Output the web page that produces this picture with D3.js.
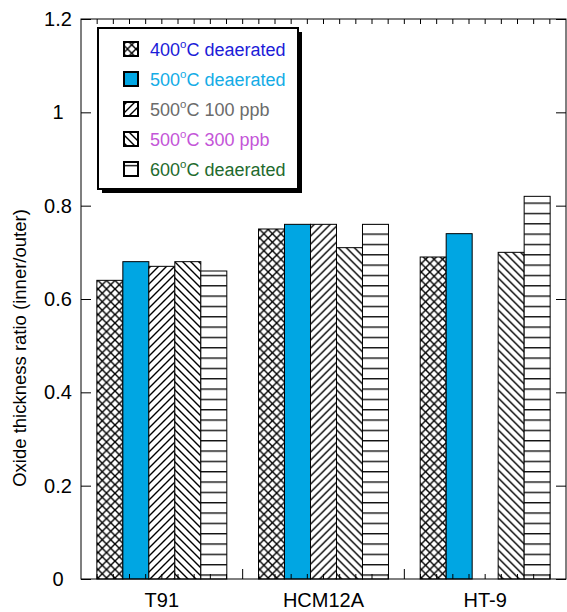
<!DOCTYPE html>
<html>
<head>
<meta charset="utf-8">
<script src="https://cdn.jsdelivr.net/npm/d3@7"></script>
<style>
  body { margin: 0; background: #fff; }
  svg { display: block; font-family: "Liberation Sans", Arial, Helvetica, sans-serif; }
</style>
</head>
<body>
<svg id="chart"></svg>
<script>
// data
const alloys = ['T91', 'HCM12A', 'HT-9'];
const conditions = ['400C deaerated', '500C deaerated', '500C 100 ppb', '500C 300 ppb', '600C deaerated'];
const conditionTemp = ['400', '500', '500', '500', '600'];
const conditionRest = ['C deaerated', 'C deaerated', 'C 100 ppb', 'C 300 ppb', 'C deaerated'];
const conditionColor = ['#1c1cd8', '#14ace6', '#6b6b6b', '#c455d8', '#1f6b2e'];
const ratios = [
  [0.64, 0.68, 0.67, 0.68, 0.66],   // T91
  [0.75, 0.76, 0.76, 0.71, 0.76],   // HCM12A
  [0.69, 0.74, null, 0.70, 0.82]    // HT-9
];
const yTicks = [0, 0.2, 0.4, 0.6, 0.8, 1, 1.2];

const width = 567;
const height = 612;
const margin = { top: 19, right: 1, bottom: 33, left: 81 };

const svg = d3.select('#chart')
  .attr('width', width)
  .attr('height', height);

const x = d3.scaleBand()
  .domain(alloys)
  .range([margin.left, width - margin.right])
  .paddingInner(0)
  .paddingOuter(0);

const xc = d3.scaleBand()
  .domain(conditions)
  .range([0, x.bandwidth()])
  .paddingInner(0)
  .paddingOuter(0.61);

const y = d3.scaleLinear()
  .domain([0, 1.2])
  .range([height - margin.bottom, margin.top]);

// fine scale for the small ticks (ten per alloy)
const xt = d3.scaleLinear()
  .domain([0, alloys.length * 10])
  .range(x.range());

// hatch patterns
const defs = svg.append('defs');

function hatch(id, dirs, s) {
  const p = defs.append('pattern')
    .attr('id', id)
    .attr('patternUnits', 'userSpaceOnUse')
    .attr('width', s)
    .attr('height', s);
  p.append('rect').attr('width', s).attr('height', s).attr('fill', '#fff');
  if (dirs.includes('/')) {
    p.append('path')
      .attr('d', `M-2,2 L2,-2 M0,${s} L${s},0 M${s - 2},${s + 2} L${s + 2},${s - 2}`)
      .attr('stroke', '#000').attr('stroke-width', 1.4);
  }
  if (dirs.includes('\\')) {
    p.append('path')
      .attr('d', `M-2,${s - 2} L2,${s + 2} M0,0 L${s},${s} M${s - 2},-2 L${s + 2},2`)
      .attr('stroke', '#000').attr('stroke-width', 1.4);
  }
}
hatch('cross', '/\\', 8.5);
hatch('fwd', '/', 8);
hatch('back', '\\', 8);

const hStep = 10.33;
const hLines = defs.append('pattern')
  .attr('id', 'horiz')
  .attr('patternUnits', 'userSpaceOnUse')
  .attr('width', 10)
  .attr('height', hStep)
  .attr('y', (y(0) - 15) % hStep);
hLines.append('rect').attr('width', 10).attr('height', hStep).attr('fill', '#fff');
hLines.append('line')
  .attr('x1', 0).attr('x2', 10)
  .attr('y1', 0.7).attr('y2', 0.7)
  .attr('stroke', '#111').attr('stroke-width', 1.4);

const fills = ['url(#cross)', '#00a6e3', 'url(#fwd)', 'url(#back)', 'url(#horiz)'];

// bars
const groups = svg.append('g')
  .selectAll('g')
  .data(alloys)
  .join('g')
  .attr('transform', d => `translate(${x(d)},0)`);

groups.selectAll('rect')
  .data((d, i) => ratios[i].map((v, j) => ({ v, j })).filter(e => e.v !== null))
  .join('rect')
  .attr('x', e => xc(conditions[e.j]))
  .attr('width', xc.bandwidth())
  .attr('y', e => y(e.v))
  .attr('height', e => y(0) - y(e.v))
  .attr('fill', e => fills[e.j])
  .attr('stroke', '#000')
  .attr('stroke-width', 1);

// frame
const [x0, x1] = x.range();
const [yb, yt] = y.range();
svg.append('rect')
  .attr('x', x0).attr('y', yt)
  .attr('width', x1 - x0).attr('height', yb - yt)
  .attr('fill', 'none')
  .attr('stroke', '#000')
  .attr('stroke-width', 1);

// y ticks, inward on both sides
svg.append('g')
  .attr('transform', `translate(${x0},0)`)
  .call(d3.axisLeft(y).tickValues(yTicks).tickSize(-10).tickPadding(23).tickFormat(d3.format('~g')))
  .call(g => g.select('.domain').remove())
  .call(g => g.selectAll('text').attr('font-size', 20).attr('fill', '#000')
    .attr('text-anchor', 'middle')
    .attr('font-family', '"Liberation Sans", Arial, sans-serif'));

svg.append('g')
  .attr('transform', `translate(${x1},0)`)
  .call(d3.axisRight(y).tickValues(yTicks).tickSize(-10).tickFormat(''))
  .call(g => g.select('.domain').remove());

// small ticks along top and bottom
const fine = d3.range(1, alloys.length * 10);
svg.append('g')
  .selectAll('line')
  .data(fine)
  .join('line')
  .attr('x1', d => xt(d)).attr('x2', d => xt(d))
  .attr('y1', yt).attr('y2', yt + 5)
  .attr('stroke', '#000');

svg.append('g')
  .selectAll('line')
  .data(fine)
  .join('line')
  .attr('x1', d => xt(d)).attr('x2', d => xt(d))
  .attr('y1', yb).attr('y2', d => yb - (d % 10 === 0 ? 10 : 5))
  .attr('stroke', '#000');

// alloy labels
svg.append('g')
  .selectAll('text')
  .data(alloys)
  .join('text')
  .attr('x', d => x(d) + x.bandwidth() / 2)
  .attr('y', 607)
  .attr('text-anchor', 'middle')
  .attr('font-size', 20)
  .text(d => d);

// y title
svg.append('text')
  .attr('transform', `translate(26,${(yt + yb) / 2 + 49}) rotate(-90)`)
  .attr('text-anchor', 'middle')
  .attr('font-size', 18.5)
  .text('Oxide thickness ratio (inner/outer)');

// legend
const lg = svg.append('g');
lg.append('rect')
  .attr('x', 102).attr('y', 32)
  .attr('width', 200).attr('height', 161)
  .attr('fill', '#000');
lg.append('rect')
  .attr('x', 98).attr('y', 28)
  .attr('width', 200).attr('height', 161)
  .attr('fill', '#fff')
  .attr('stroke', '#000')
  .attr('stroke-width', 2);

const rows = lg.selectAll('g.row')
  .data(conditions)
  .join('g')
  .attr('class', 'row')
  .attr('transform', (d, i) => `translate(0,${49 + i * 30})`);

rows.append('rect')
  .attr('x', 124).attr('y', -7)
  .attr('width', 14).attr('height', 14)
  .attr('fill', (d, i) => fills[i])
  .attr('stroke', '#000')
  .attr('stroke-width', 2);

const label = rows.append('text')
  .attr('x', 150)
  .attr('y', 6.5)
  .attr('font-size', 18)
  .attr('fill', (d, i) => conditionColor[i]);
label.append('tspan').text((d, i) => conditionTemp[i]);
label.append('tspan').attr('font-size', 11.5).attr('dy', -7.5).text('o');
label.append('tspan').attr('dy', 7.5).text((d, i) => conditionRest[i]);
</script>
</body>
</html>
